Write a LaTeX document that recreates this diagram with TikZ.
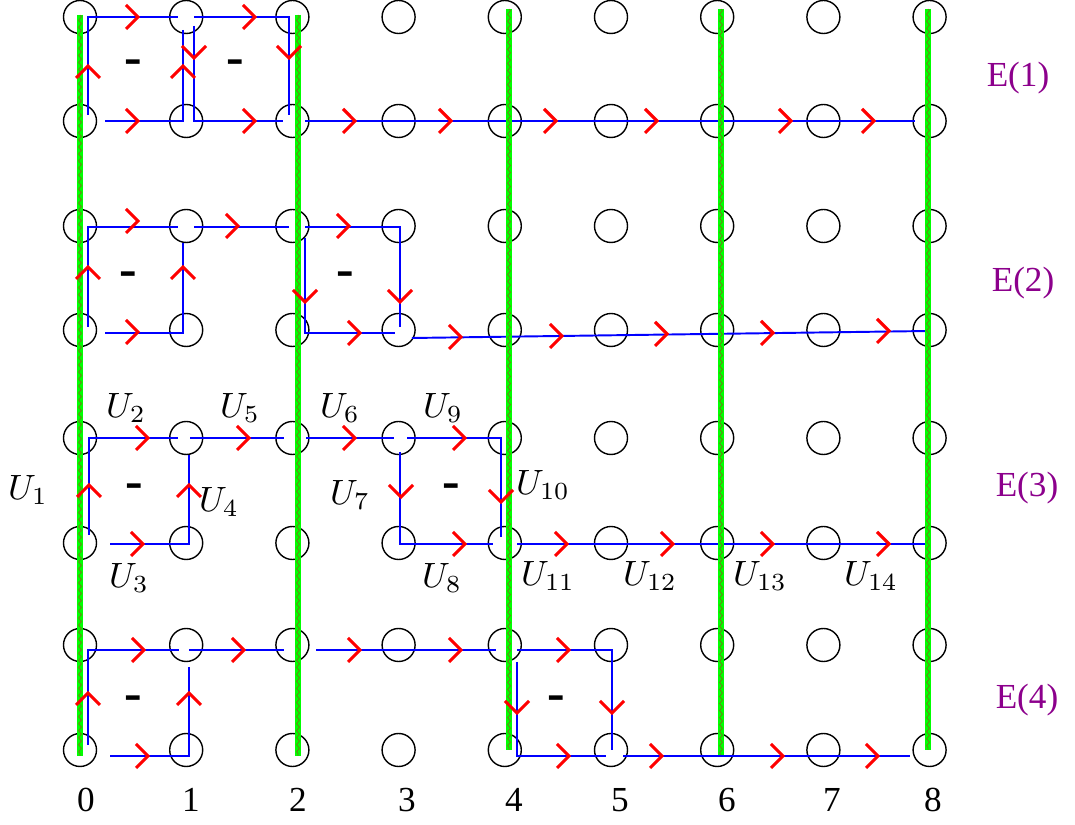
\documentclass[tikz,border=0pt]{standalone}
\usepackage[no-math]{fontspec}
\setmainfont{Liberation Serif}
\usepackage{xcolor}
\usetikzlibrary{decorations.pathmorphing}
\definecolor{epurple}{RGB}{140,0,140}

% red chevrons: tip given as (x,y)
\newcommand{\chevR}[1]{\draw[chev] #1 ++(-12,-12) -- ++(12,12) -- ++(-12,12);}
\newcommand{\chevU}[1]{\draw[chev] #1 ++(-12,12) -- ++(12,-12) -- ++(12,12);}
\newcommand{\chevD}[1]{\draw[chev] #1 ++(-12,-12) -- ++(12,12) -- ++(12,-12);}

\tikzset{
  site/.style={draw, circle, minimum size=0.33cm, inner sep=0pt, line width=0.4pt},
  link/.style={blue, line width=0.55pt},
  chev/.style={red, line width=0.9pt},
  gline/.style={green, line width=1.7pt,
    postaction={draw=olive!80!black, line width=0.2pt, decorate,
      decoration={zigzag, amplitude=0.4pt, segment length=2pt}}},
  sgn/.style={font=\fontsize{15}{17}\selectfont\bfseries},
  elab/.style={text=epurple},
}

\begin{document}
\begin{tikzpicture}[x=0.01cm, y=-0.01cm]
  \useasboundingbox (0,0) rectangle (1075,825);
  % lattice sites
  \foreach \j/\y in {0/17,1/121,2/226,3/330,4/438,5/543,6/645,7/750}
    \foreach \i in {0,...,8}
      \node[site] (s\i-\j) at ({80+106.2*\i},\y) {};

  % E(1)
  \draw[link] (88,115) -- (88,17) -- (178,17);
  \draw[link] (194,17) -- (289,17) -- (289,115);
  \draw[link] (183,30) -- (183,121) -- (105,121);
  \draw[link] (194,26) -- (194,121) -- (283,121);
  \draw[link] (305,121) -- (915,121);
  % E(2)
  \draw[link] (88,327) -- (88,227) -- (178,227);
  \draw[link] (194,227) -- (289,227);
  \draw[link] (305,227) -- (400,227) -- (400,327);
  \draw[link] (183,243) -- (183,333) -- (105,333);
  \draw[link] (305,238) -- (305,333) -- (395,333);
  \draw[link] (412,338) -- (928,331);
  % E(3)
  \draw[link] (89,535) -- (89,438) -- (178,438);
  \draw[link] (190,438) -- (284,438);
  \draw[link] (306,438) -- (394,438);
  \draw[link] (407,438) -- (501,438) -- (501,537);
  \draw[link] (189,455) -- (189,544) -- (110,544);
  \draw[link] (400,452) -- (400,544) -- (493,544);
  \draw[link] (517,544) -- (928,544);
  % E(4)
  \draw[link] (88,745) -- (88,650) -- (179,650);
  \draw[link] (189,650) -- (284,650);
  \draw[link] (316,650) -- (496,650);
  \draw[link] (517,650) -- (612,650) -- (612,750);
  \draw[link] (189,667) -- (189,756) -- (110,756);
  \draw[link] (517,662) -- (517,756) -- (606,756);
  \draw[link] (623,756) -- (910,756);

  % green bonds
  \foreach \x/\t/\b in {80/15/756, 298/15/756, 509/9/750, 721/9/755, 928/9/750}
    \draw[gline] (\x,\t) -- (\x,\b);

  % chevrons
  \foreach \x/\y in {138/17, 255/17, 138/121, 255/121, 355/121, 451/121, 556/121,
      657/121, 791/121, 874/121,
      138/221, 238/226, 349/226, 138/332, 360/333, 461/337, 562/336, 667/334,
      773/333, 889/331,
      148/438, 249/438, 355/438, 465/438, 143/544, 465/544, 567/544, 673/544,
      773/544, 889/544,
      144/650, 244/650, 360/650, 461/650, 569/650, 148/756, 569/756, 662/756,
      783/756, 878/756}
    \chevR{(\x,\y)};
  \foreach \x/\y in {88/66, 183/66, 88/267, 183/267, 89/485, 189/485, 88/693, 189/693}
    \chevU{(\x,\y)};
  \foreach \x/\y in {194/58, 289/58, 305/302, 400/302, 401/497, 501/502, 517/713, 612/713}
    \chevD{(\x,\y)};

  % signs
  \node[sgn] (m1) at (133,67) {-};
  \node[sgn] (m2) at (235,67) {-};
  \node[sgn] (m3) at (128,279) {-};
  \node[sgn] (m4) at (345,279) {-};
  \node[sgn] (m5) at (134,491) {-};
  \node[sgn] (m6) at (451,491) {-};
  \node[sgn] (m7) at (133,703) {-};
  \node[sgn] (m8) at (556,703) {-};

  % link labels
  \node (u1) at (28,490) {$U_1$};
  \node (u2) at (126,408) {$U_2$};
  \node (u3) at (129,578) {$U_3$};
  \node (u4) at (219,502) {$U_4$};
  \node (u5) at (240,408) {$U_5$};
  \node (u6) at (340,408) {$U_6$};
  \node (u7) at (350,495) {$U_7$};
  \node (u8) at (442,578) {$U_8$};
  \node (u9) at (443,408) {$U_9$};
  \node (u10) at (543,485) {$U_{10}$};
  \node (u11) at (548,576) {$U_{11}$};
  \node (u12) at (650,576) {$U_{12}$};
  \node (u13) at (760,576) {$U_{13}$};
  \node (u14) at (871,576) {$U_{14}$};

  % time slices
  \node[elab] (e1) at (1018,78) {E(1)};
  \node[elab] (e2) at (1023,283) {E(2)};
  \node[elab] (e3) at (1027,488) {E(3)};
  \node[elab] (e4) at (1027,700) {E(4)};

  % site numbers
  \foreach \n/\x in {0/86, 1/191, 2/298, 3/407, 4/514, 5/620, 6/727, 7/832, 8/933}
    \node (n\n) at (\x,800) {\n};
\end{tikzpicture}
\end{document}
